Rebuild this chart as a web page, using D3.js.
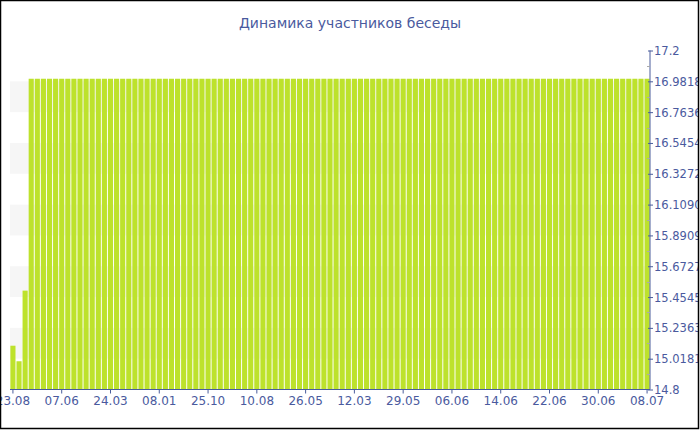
<!DOCTYPE html>
<html><head><meta charset="utf-8">
<script src="https://cdn.jsdelivr.net/npm/d3@7"></script>
<style>
html,body{margin:0;padding:0;background:#fff;}
svg{display:block;}
</style></head>
<body>
<svg id="chart" width="700" height="430"></svg>
<script>
const title = "Динамика участников беседы";
const values = [15.11, 15.0, 15.5,
 17,17,17,17,17,17,17,17,17,17, 17,17,17,17,17,17,17,17,17,17,
 17,17,17,17,17,17,17,17,17,17, 17,17,17,17,17,17,17,17,17,17,
 17,17,17,17,17,17,17,17,17,17, 17,17,17,17,17,17,17,17,17,17,
 17,17,17,17,17,17,17,17,17,17, 17,17,17,17,17,17,17,17,17,17,
 17,17,17,17,17,17,17,17,17,17, 17,17,17,17,17,17,17,17,17,17,
 17,17];
const xTickLabels = ["23.08","07.06","24.03","08.01","25.10","10.08","26.05","12.03","29.05","06.06","14.06","22.06","30.06","08.07"];
const yTickLabels = ["14.8","15.0181","15.2363","15.4545","15.6727","15.8909","16.1090","16.3272","16.5454","16.7636","16.9818","17.2"];
const yMin = 14.8, yMax = 17.2;

(function(){
const svg = d3.select("#chart");
const pLeft = 10, pRight = 650, pTop = 50.5, pBottom = 389.5;
const axisColor = "#4a5d9c";
const textColor = "#4a5a9e";
const font = "Verdana, 'DejaVu Sans', sans-serif";

const x = d3.scaleBand().domain(d3.range(values.length)).range([pLeft, pRight]).paddingInner(0.16).paddingOuter(0.06);
const y = d3.scaleLinear().domain([yMin, yMax]).range([pBottom, pTop]);
const yTicks = yTickLabels.map(Number);

svg.append("defs").append("clipPath").attr("id","frame").append("rect").attr("x",0).attr("y",0).attr("width",698).attr("height",428);
const g = svg.append("g").attr("clip-path","url(#frame)");

// alternating bands (odd bands counted from top are gray)
const n = yTicks.length;
const bandIdx = d3.range(n - 1).filter(i => i % 2 === 1);
g.selectAll("rect.band").data(bandIdx).enter().append("rect")
  .attr("class","band")
  .attr("x", pLeft)
  .attr("width", pRight - pLeft)
  .attr("y", i => y(yTicks[n - 1 - i]))
  .attr("height", i => y(yTicks[n - 2 - i]) - y(yTicks[n - 1 - i]))
  .attr("fill", "#f6f6f6");

// bars
g.selectAll("rect.bar").data(values).enter().append("rect")
  .attr("class","bar")
  .attr("x", (d,i) => x(i))
  .attr("width", x.bandwidth())
  .attr("y", d => y(d))
  .attr("height", d => y(yMin) - y(d))
  .attr("fill", "#bde22c");

// title
g.append("text").attr("x", 350).attr("y", 28).attr("text-anchor","middle")
  .attr("font-family", font).attr("font-size", 14).attr("fill", textColor).text(title);

// y axis (right)
const yAxis = d3.axisRight(y).tickValues(yTicks).tickSize(3).tickFormat((d,i) => yTickLabels[i]);
const ya = g.append("g").attr("transform", `translate(${pRight},0)`).call(yAxis);
ya.select(".domain").attr("stroke", axisColor).attr("d", `M0,${pTop}V${pBottom}`);
ya.selectAll(".tick line").attr("stroke", axisColor).attr("x1", -2).attr("x2", 3);
ya.selectAll(".tick text").attr("font-family", font).attr("font-size", 11.5).attr("fill", textColor).attr("x", 4).attr("dy","0.35em");
// minor ticks
const minor = d3.range(n - 1).map(i => (yTicks[i] + yTicks[i+1]) / 2);
g.selectAll("line.minor").data(minor).enter().append("line")
  .attr("x1", pRight - 3).attr("x2", pRight).attr("y1", d => Math.round(y(d)) + 0.5).attr("y2", d => Math.round(y(d)) + 0.5)
  .attr("stroke", "#aaaaaa");

// x axis
const xTickIdx = xTickLabels.map((_, i) => i * 8);
const xAxis = d3.axisBottom(x).tickValues(xTickIdx).tickSize(4).tickFormat(d => xTickLabels[d / 8]);
const xa = g.append("g").attr("transform", `translate(0,${pBottom})`).call(xAxis);
xa.select(".domain").attr("stroke", axisColor).attr("d", `M${pLeft},0H${pRight}`);
xa.selectAll(".tick line").attr("stroke", axisColor);
xa.selectAll(".tick text").attr("font-family", font).attr("font-size", 12).attr("fill", textColor).attr("y", 7);

// frame
svg.append("rect").attr("x", 0.5).attr("y", 0.5).attr("width", 698).attr("height", 428)
  .attr("fill", "none").attr("stroke", "#000").attr("stroke-width", 1.5);
})();
</script>
</body></html>
